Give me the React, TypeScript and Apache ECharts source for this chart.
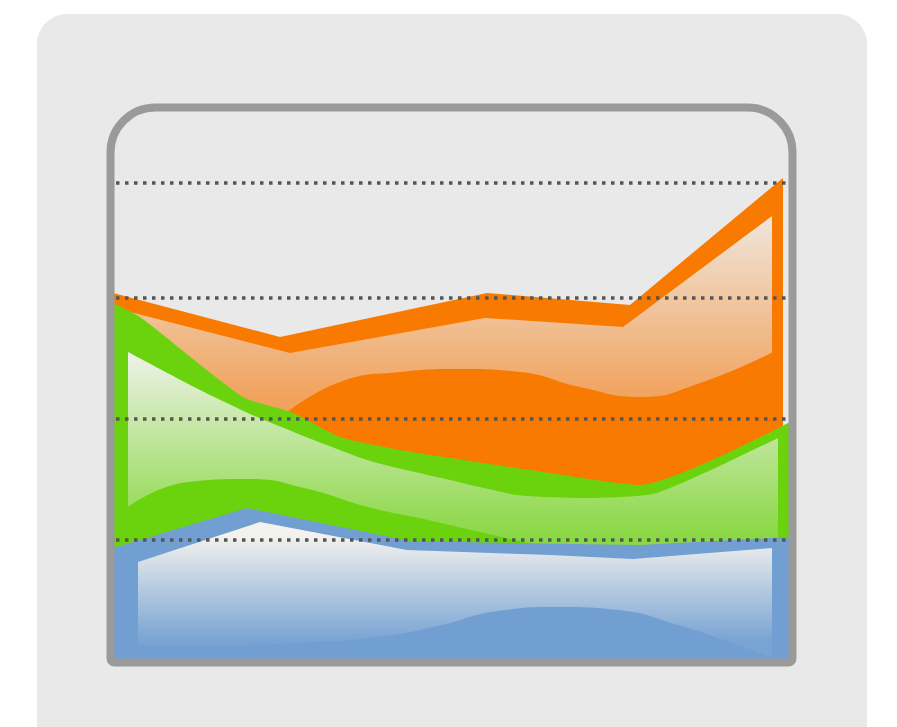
import React, { useEffect, useRef } from "react";
import * as echarts from "echarts";

const orangeTop = [[6,370],[173,326],[380,370],[523,358],[676,485]];
const orangeInner = [[23,351],[183,310],[378,345],[516,336],[665,447]];
const orangeBlob = [[173,245],[233,281],[293,291],[353,294],[413,291],[473,276],[533,266],[593,280],[666,311]];
const greenTop = [[6,360],[33,346],[136,266],[186,250],[233,226],[293,213],[343,205],[443,190],[533,178],[683,241]];
const greenInner = [[21,311],[93,273],[150,246],[260,203],[343,183],[410,168],[476,165],[550,170],[671,225]];
const greenBlob = [[21,156],[81,181],[141,184],[201,174],[261,156],[321,143],[381,129],[441,116]];
const blueTop = [[6,115],[140,155],[303,122],[403,120],[533,118],[683,126]];
const blueInner = [[31,101],[153,141],[300,113],[443,108],[526,104],[665,115]];
const blueBlob = [[31,18],[111,18],[191,20],[271,26],[331,37],[391,52],[451,56],[511,53],[571,38],[631,18],[663,6]];
const gridValues = [480, 365, 244, 123];

const ORANGE = "#f97a00";
const GREEN = "#6bd30e";
const BLUE = "#729fd2";

const grad = (y1: number, y2: number, c1: string, c2: string) => ({
  type: "linear", x: 0, y: y1, x2: 0, y2, global: true,
  colorStops: [{ offset: 0, color: c1 }, { offset: 1, color: c2 }],
});

const band = (name: string, data: number[][], color: any, smooth: number | boolean = false) => ({
  name, type: "line", data, smooth, symbol: "none", silent: true,
  lineStyle: { width: 0, opacity: 0 }, areaStyle: { color, opacity: 1 },
});

export default function App() {
  const ref = useRef<HTMLDivElement>(null);
  useEffect(() => {
    const chart = echarts.init(ref.current!, null, { renderer: "svg" });
    chart.setOption({
      animation: false,
      backgroundColor: "#ffffff",
      grid: { left: 107, top: 103, width: 690, height: 560 },
      xAxis: { type: "value", min: 0, max: 690, show: false },
      yAxis: { type: "value", min: 0, max: 560, show: false },
      graphic: [
        { type: "rect", z: -10, shape: { x: 37, y: 14, width: 830, height: 740, r: 30 }, style: { fill: "#e9e9e9" } },
        { type: "rect", z: 10, shape: { x: 110.5, y: 107.5, width: 682, height: 555, r: [45, 45, 4, 4] },
          style: { fill: "none", stroke: "#9a9a9a", lineWidth: 8 } },
      ],
      series: [
        band("orange", orangeTop, ORANGE),
        band("orange light", orangeInner, grad(215, 400, "#efe6dc", "#f1a25c")),
        band("orange shade", orangeBlob, ORANGE, 0.5),
        band("green", greenTop, GREEN, 0.2),
        band("green light", greenInner, grad(352, 535, "#eef2e8", "#8bd845"), 0.2),
        band("green shade", greenBlob, GREEN, 0.5),
        band("blue", blueTop, BLUE),
        band("blue light", blueInner, grad(535, 642, "#f4f2ee", "#78a3d3")),
        band("blue shade", blueBlob, BLUE, 0.5),
        {
          name: "grid", type: "line", data: [], z: 20, silent: true,
          markLine: {
            silent: true, symbol: "none", label: { show: false },
            lineStyle: { color: "#555555", width: 3.5, type: [3.5, 5.5], opacity: 1 },
            data: gridValues.map((v) => ({ yAxis: v })),
          },
        },
      ],
    });
    return () => chart.dispose();
  }, []);
  return <div ref={ref} style={{ position: "absolute", left: 0, top: 0, width: 897, height: 727, filter: "blur(0.6px)" }} />;
}
